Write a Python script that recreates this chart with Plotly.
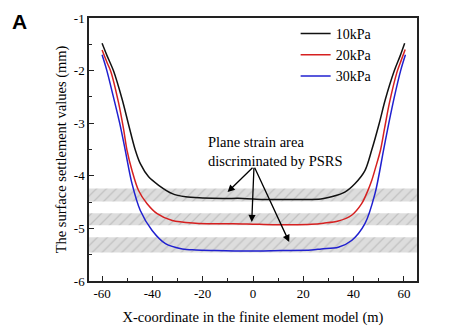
import plotly.graph_objects as go

# ---- data ----
x_10 = [-60, -58, -55.5, -52, -49.6, -46.8, -44.8, -41.5, -37.5, -32.1, -26.8, -20, -12, -4, 4, 12, 20, 27, 31.2, 36.5, 40.5, 44.5, 47.2, 50.2, 52.6, 56.2, 58.5, 60.3]
y_10 = [-1.48, -1.72, -2.0, -2.55, -3.0, -3.51, -3.77, -4.02, -4.18, -4.34, -4.40, -4.42, -4.43, -4.43, -4.45, -4.45, -4.45, -4.44, -4.40, -4.31, -4.15, -3.90, -3.51, -3.0, -2.55, -2.0, -1.72, -1.48]

x_20 = [-60, -58, -56.5, -53.5, -51.5, -50.1, -48.1, -45.5, -42.1, -38.1, -32.1, -22.8, -15, -8, 0, 8, 15, 23.2, 28, 33.9, 39.2, 43.2, 45.5, 47.2, 48.7, 50.7, 52.3, 54.3, 57.3, 58.8, 60.5]
y_20 = [-1.61, -1.85, -2.02, -2.6, -3.1, -3.51, -3.9, -4.28, -4.53, -4.72, -4.85, -4.90, -4.91, -4.91, -4.92, -4.93, -4.93, -4.92, -4.90, -4.86, -4.75, -4.53, -4.30, -4.09, -3.85, -3.51, -3.1, -2.6, -2.02, -1.82, -1.60]

x_30 = [-60, -58.1, -55.5, -53, -50.8, -48.1, -44.8, -40.1, -34.8, -28.1, -22.8, -15.5, -2.1, 11.2, 23.2, 27.2, 33.9, 39.2, 44.5, 48.5, 51.9, 54, 56.2, 58.7, 60.6]
y_30 = [-1.70, -2.0, -2.5, -3.0, -3.51, -4.15, -4.66, -5.04, -5.29, -5.39, -5.41, -5.42, -5.43, -5.42, -5.41, -5.39, -5.36, -5.23, -4.91, -4.34, -3.51, -3.0, -2.5, -2.0, -1.70]

series_names = ["10kPa", "20kPa", "30kPa"]
series_colors = ["#111111", "#d62020", "#2020d0"]

# hatched plane-strain bands (y ranges)
band_low = [-4.49, -4.94, -5.46]
band_high = [-4.24, -4.71, -5.17]

x_ticks = [-60, -40, -20, 0, 20, 40, 60]
x_tick_text = ["-60", "-40", "-20", "0", "20", "40", "60"]
y_ticks = [-6, -5, -4, -3, -2, -1]
y_tick_text = ["-6", "-5", "-4", "-3", "-2", "-1"]

x_range = [-65.2, 65.2]
y_range = [-6, -1]

# arrows: common tail and three heads
arrow_tail = (0.4, -3.82)
arrow_heads_x = [-10.1, -0.5, 14.4]
arrow_heads_y = [-4.31, -4.88, -5.26]

serif = "Liberation Serif"

fig = go.Figure()

for lo, hi in zip(band_low, band_high):
    fig.add_trace(go.Scatter(
        x=[x_range[0], x_range[1], x_range[1], x_range[0], x_range[0]],
        y=[lo, lo, hi, hi, lo],
        mode="lines", line=dict(width=0), fill="toself",
        fillcolor="rgba(0,0,0,0)",
        fillpattern=dict(shape="/", bgcolor="#dddddd", fgcolor="#a6a6a6",
                         size=7, solidity=0.18),
        showlegend=False, hoverinfo="skip"))

for xs, ys, name, col in zip([x_10, x_20, x_30], [y_10, y_20, y_30], series_names, series_colors):
    fig.add_trace(go.Scatter(x=xs, y=ys, mode="lines", name=name,
                             line=dict(color=col, width=1.5, shape="spline", smoothing=0.9)))

for hx, hy in zip(arrow_heads_x, arrow_heads_y):
    fig.add_annotation(x=hx, y=hy, ax=arrow_tail[0], ay=arrow_tail[1],
                       xref="x", yref="y", axref="x", ayref="y",
                       text="", showarrow=True, arrowhead=2, arrowsize=1.1,
                       arrowwidth=1.3, arrowcolor="black")

fig.add_annotation(x=-18.7, y=-3.53, xref="x", yref="y", xanchor="left", yanchor="middle",
                   text="Plane strain area<br>discriminated by PSRS", showarrow=False,
                   align="left", font=dict(family=serif, size=14.5, color="black"))

fig.add_annotation(x=-0.213, y=0.985, xref="paper", yref="paper", xanchor="center", yanchor="middle",
                   text="<b>A</b>", showarrow=False,
                   font=dict(family="Liberation Sans", size=21, color="black"))

axis_common = dict(showline=True, linecolor="#222222", linewidth=1.5, mirror=True,
                   ticks="inside", tickcolor="#222222", tickwidth=1.2, ticklen=5,
                   showgrid=False, zeroline=False,
                   tickfont=dict(family=serif, size=13, color="black"))

fig.update_xaxes(range=x_range, tickvals=x_ticks, ticktext=x_tick_text,
                 minor=dict(ticks="inside", ticklen=3, dtick=10, tick0=0, tickcolor="#222222", tickwidth=1.2),
                 title=dict(text="X-coordinate in the finite element model (m)",
                            font=dict(family=serif, size=14.5, color="black"), standoff=12),
                 **axis_common)
fig.update_yaxes(range=y_range, tickvals=y_ticks, ticktext=y_tick_text,
                 minor=dict(ticks="inside", ticklen=3, dtick=0.5, tick0=0, tickcolor="#222222", tickwidth=1.2),
                 title=dict(text="The surface settlement values (mm)",
                            font=dict(family=serif, size=14.5, color="black"), standoff=4),
                 **axis_common)

fig.update_layout(
    width=458, height=329,
    margin=dict(l=89, r=41, t=18, b=48, autoexpand=False),
    paper_bgcolor="white", plot_bgcolor="white",
    showlegend=True,
    legend=dict(x=0.63, y=1.0, xanchor="left", yanchor="top",
                bgcolor="rgba(0,0,0,0)", borderwidth=0, tracegroupgap=0,
                font=dict(family=serif, size=14, color="black")),
)

fig.write_html("out.html")
